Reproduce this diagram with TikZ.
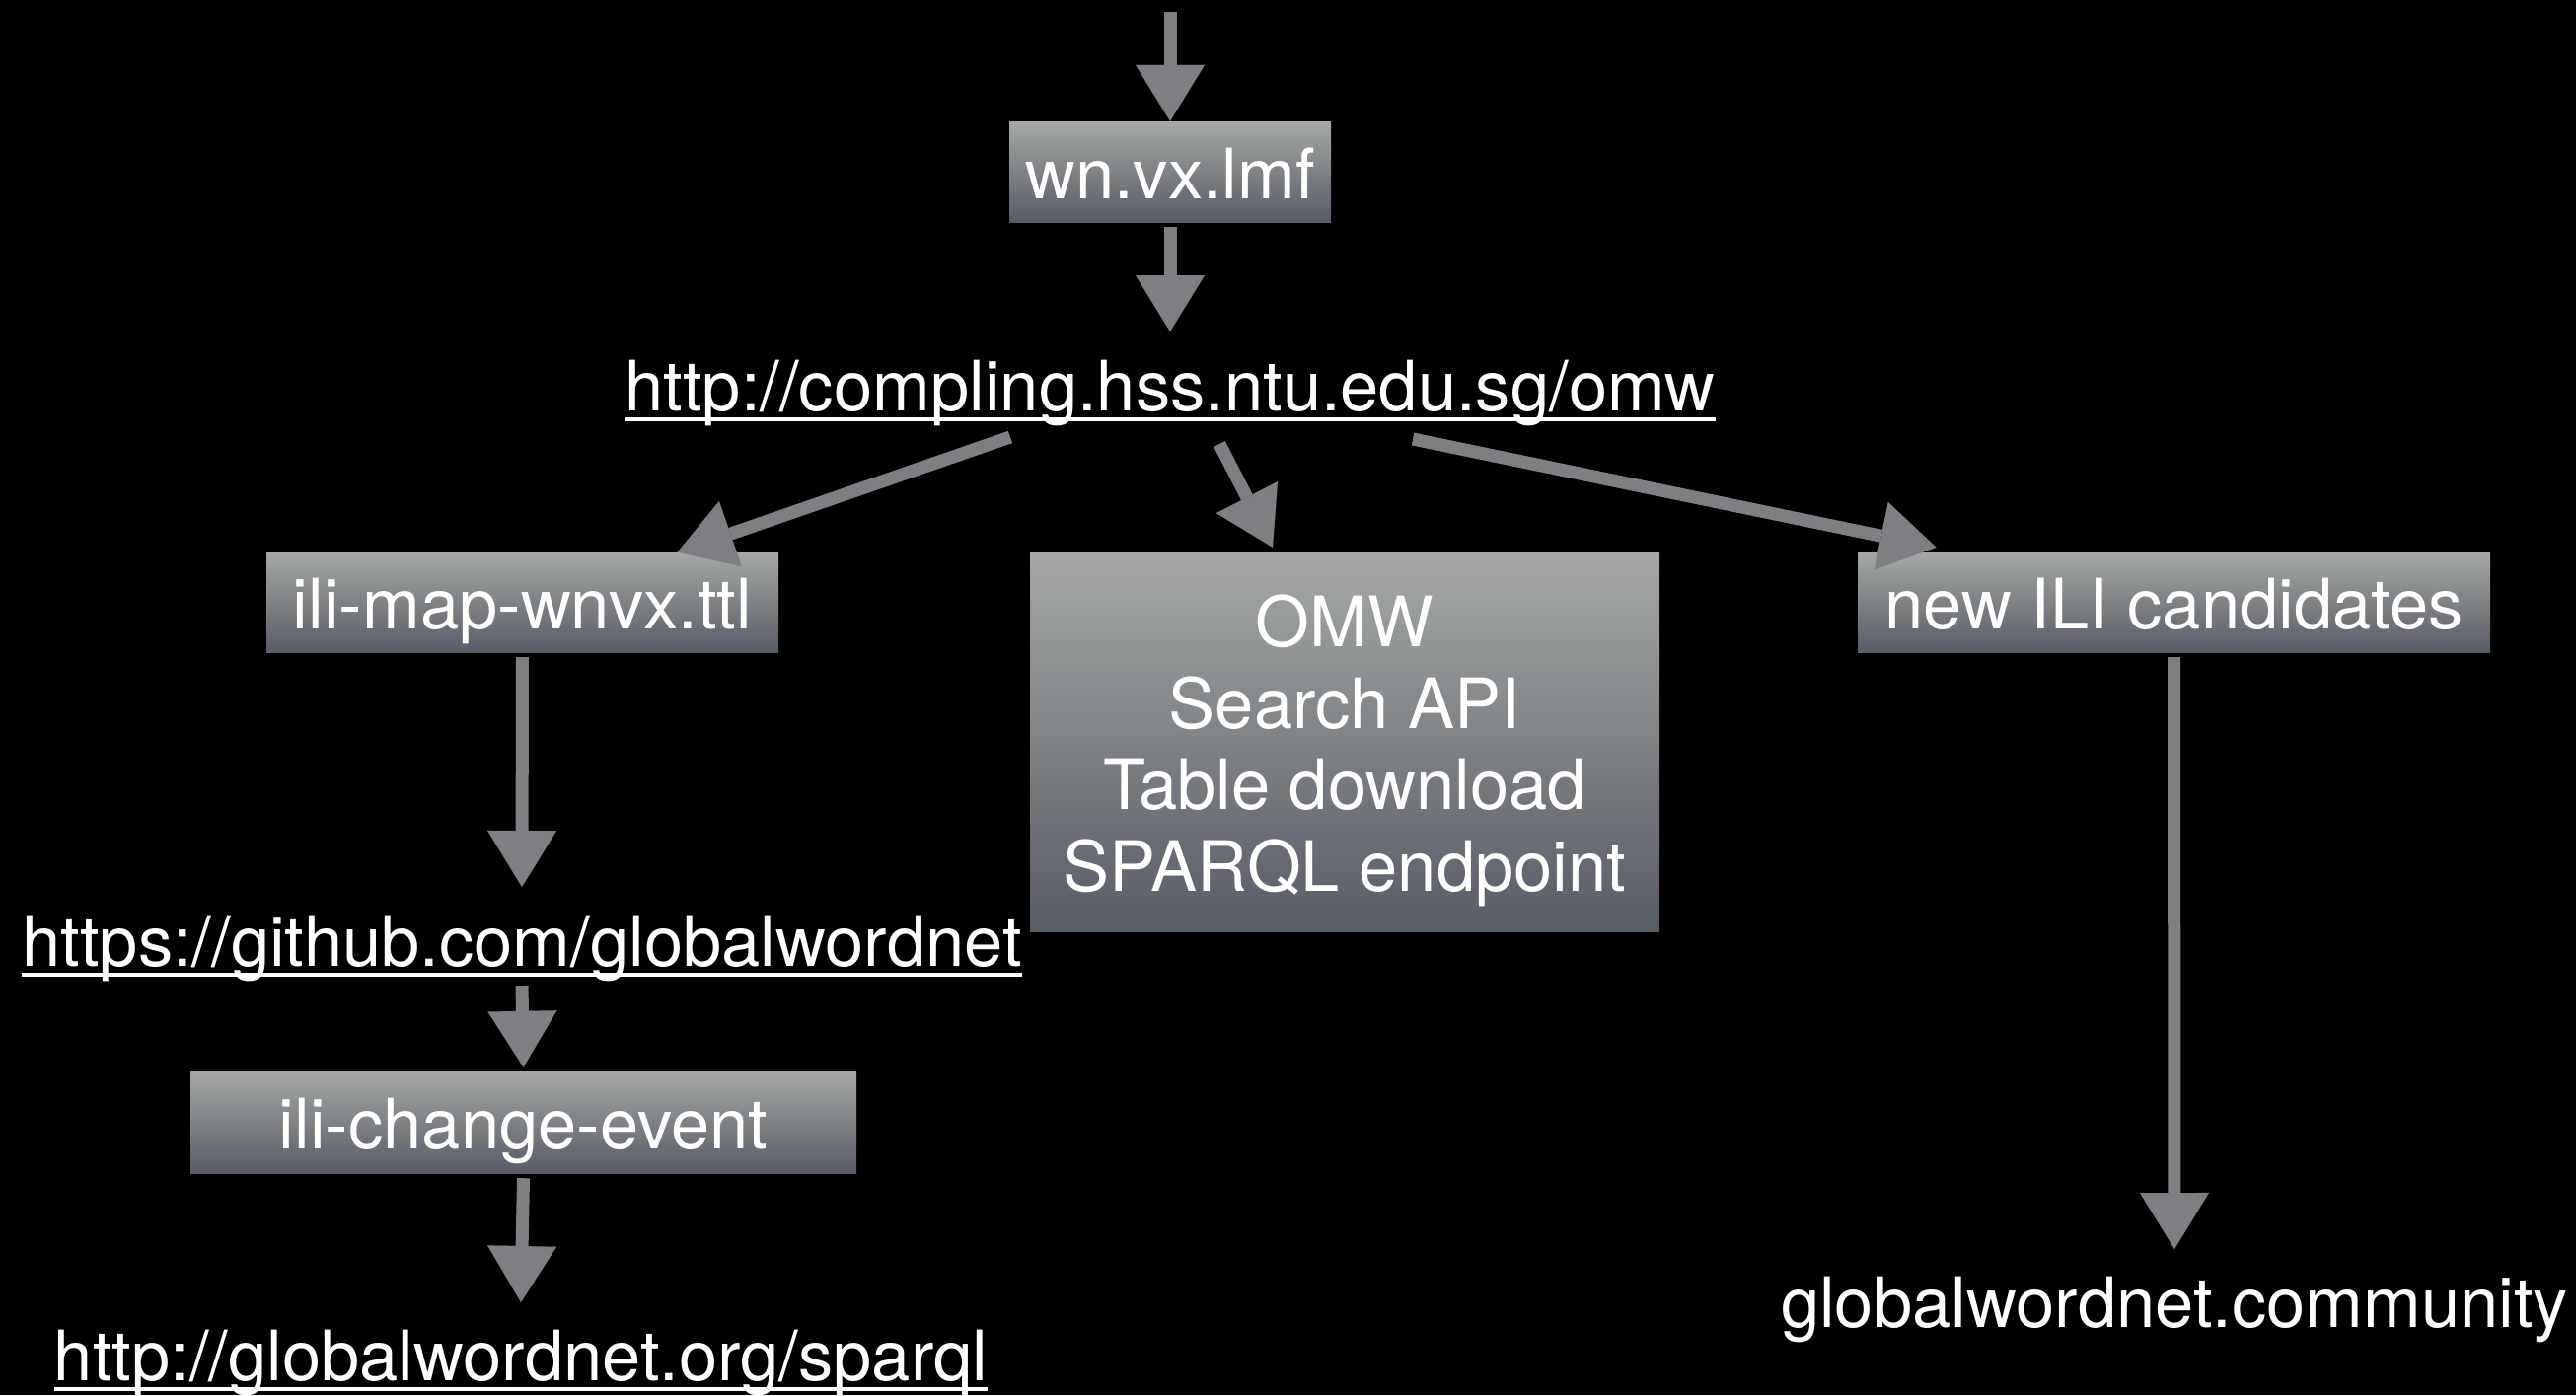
\documentclass[tikz,border=0pt]{standalone}
\usepackage{fontspec}
\setmainfont{TeX Gyre Heros}
\usetikzlibrary{arrows.meta,calc}
\definecolor{boxtop}{HTML}{A5A8A6}
\definecolor{boxbot}{HTML}{585C65}
\definecolor{chalk}{HTML}{7D7F83}
\begin{document}
\begin{tikzpicture}[x=1pt,y=-1pt,
  bigfont/.style={font=\fontsize{70.5}{82.5}\selectfont},
  gradbox/.style={rectangle, bigfont, top color=boxtop, bottom color=boxbot,
    text=white, align=center, inner sep=0pt},
  onebox/.style={gradbox, text height=54pt, text depth=0pt},
  plain/.style={bigfont, text=white, inner sep=0pt, anchor=base},
  uline/.style={draw=white, line width=3.5pt},
  arr/.style={draw=chalk, line width=13pt,
    -{Triangle[width=70pt,length=57pt,line width=0.1pt]}}]

% canvas
\fill[black] (0,0) rectangle (2611,1414);
\useasboundingbox (0,0) rectangle (2611,1414);

% boxes
\node[onebox, minimum width=326pt, minimum height=102pt] (lmf) at (1186,174) {wn.vx.lmf};
\node[onebox, minimum width=519pt, minimum height=101pt] (ilimap) at (529.5,610.5) {ili-map-wnvx.ttl};
\node[gradbox, minimum width=638pt, minimum height=384pt] (omw) at (1363,752) {};
\node[bigfont, text=white, align=center, inner sep=0pt, anchor=north] (omwtext) at (1363,603)
  {OMW\\Search API\\Table download\\SPARQL endpoint};
\node[onebox, minimum width=641pt, minimum height=101pt] (newili) at (2203.5,610.5) {new ILI candidates};
\node[onebox, minimum width=675pt, minimum height=103pt] (change) at (530.5,1137.5) {ili-change-event};

% plain labels and links
\node[plain] (omwurl) at (1186,416) {http://compling.hss.ntu.edu.sg/omw};
\node[plain] (github) at (529,979) {https://github.com/globalwordnet};
\node[plain] (sparql) at (528,1399) {http://globalwordnet.org/sparql};
\node[plain] (community) at (2204,1345) {globalwordnet.community};

% underlines of the links
\draw[uline] ([yshift=-9pt]omwurl.base west) -- ([yshift=-9pt]omwurl.base east);
\draw[uline] ([yshift=-9pt]github.base west) -- ([yshift=-9pt]github.base east);
\draw[uline] ([yshift=-9pt]sparql.base west) -- ([yshift=-9pt]sparql.base east);

% free start of the incoming arrow
\coordinate (src) at (1186,12);

% connectors
\draw[arr] (src) -- (lmf.north);
\draw[arr] ([yshift=-5pt]lmf.south) -- ([yshift=80pt]omwurl.base);
\draw[arr] ([xshift=-162pt,yshift=-27pt]omwurl.base) -- ([xshift=157pt]ilimap.north);
\draw[arr] ([xshift=50pt,yshift=-34pt]omwurl.base) -- ([xshift=-73pt,yshift=5pt]omw.north);
\draw[arr] ([xshift=246pt,yshift=-29pt]omwurl.base) -- ([xshift=-241pt,yshift=5pt]newili.north);
\draw[arr] ([yshift=-5pt]ilimap.south) -- ([yshift=80pt]github.base);
\draw[arr] ([yshift=-20pt]github.base) -- ([yshift=4pt]change.north);
\draw[arr] ([yshift=-5pt]change.south) -- ([yshift=79pt]sparql.base);
\draw[arr] ([yshift=-5pt]newili.south) -- ([yshift=79pt]community.base);
\end{tikzpicture}
\end{document}
